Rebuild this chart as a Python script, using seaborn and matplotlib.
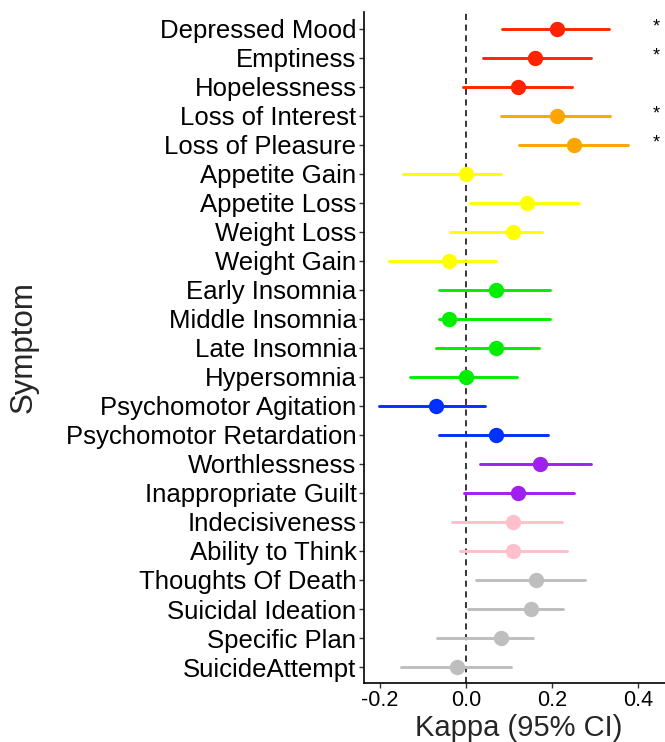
import numpy as np
import pandas as pd
import matplotlib
matplotlib.use("Agg")
import matplotlib.pyplot as plt
import seaborn as sns

symptoms = ["Depressed Mood", "Emptiness", "Hopelessness", "Loss of Interest",
            "Loss of Pleasure", "Appetite Gain", "Appetite Loss", "Weight Loss",
            "Weight Gain", "Early Insomnia", "Middle Insomnia", "Late Insomnia",
            "Hypersomnia", "Psychomotor Agitation", "Psychomotor Retardation",
            "Worthlessness", "Inappropriate Guilt", "Indecisiveness",
            "Ability to Think", "Thoughts Of Death", "Suicidal Ideation",
            "Specific Plan", "SuicideAttempt"]
kappa = [0.212, 0.161, 0.121, 0.211, 0.251, 0.000, 0.141, 0.110, -0.040,
         0.070, -0.040, 0.070, 0.000, -0.070, 0.070, 0.172, 0.121, 0.110,
         0.110, 0.162, 0.150, 0.081, -0.020]
ci_low = [0.083, 0.039, -0.006, 0.080, 0.124, -0.147, 0.010, -0.037, -0.179,
          -0.063, -0.063, -0.069, -0.130, -0.203, -0.063, 0.032, -0.004, -0.032,
          -0.013, 0.023, 0.004, -0.067, -0.150]
ci_high = [0.332, 0.289, 0.246, 0.334, 0.377, 0.081, 0.263, 0.177, 0.070,
           0.194, 0.194, 0.170, 0.119, 0.043, 0.191, 0.290, 0.251, 0.223,
           0.234, 0.277, 0.224, 0.155, 0.104]
groups = ["red"] * 3 + ["orange"] * 2 + ["yellow"] * 4 + ["green"] * 4 + \
         ["blue"] * 2 + ["purple"] * 2 + ["pink"] * 2 + ["gray"] * 4
significant = ["Depressed Mood", "Emptiness", "Loss of Interest", "Loss of Pleasure"]

group_colors = {"red": "#FF2400", "orange": "#FFA500", "yellow": "#FFFF00",
                "green": "#00EE00", "blue": "#0030FF", "purple": "#A020F0",
                "pink": "#FFC0CB", "gray": "#BEBEBE"}

# long-form table: three values per symptom (low, estimate, high)
rows = []
for s, lo, k, hi in zip(symptoms, ci_low, kappa, ci_high):
    for v in (lo, k, hi):
        rows.append({"Symptom": s, "Kappa": v})
df = pd.DataFrame(rows)
palette = {s: group_colors[g] for s, g in zip(symptoms, groups)}

sns.set_theme(style="white")
plt.rcParams["font.family"] = ["Liberation Sans", "DejaVu Sans"]

fig = plt.figure(figsize=(6.65, 7.42), dpi=100)
ax = fig.add_axes([0.5474, 0.0795, 0.4526, 0.9043])

ax.axvline(0, color="black", linestyle=(0, (4, 3)), linewidth=1.1, zorder=1)

sns.pointplot(data=df, x="Kappa", y="Symptom", hue="Symptom", order=symptoms,
              hue_order=symptoms, palette=palette, estimator=np.median,
              errorbar=lambda v: (v.min(), v.max()), linestyle="none",
              markers="o", markersize=9, err_kws={"linewidth": 2.1},
              dodge=False, legend=False, orient="h", ax=ax)

for s in significant:
    ax.text(0.441, symptoms.index(s) - 0.05, "*", ha="center", va="center",
            fontsize=13, color="black")

ax.set_xlim(-0.237, 0.462)
ax.set_ylim(22.55, -0.57)
ax.set_xticks([-0.2, 0.0, 0.2, 0.4])
ax.set_xticklabels(["-0.2", "0.0", "0.2", "0.4"])
ax.tick_params(axis="both", which="both", length=3.5, width=1, color="#333333",
               labelcolor="black", left=True, bottom=True)
ax.tick_params(axis="y", labelsize=18.5, pad=2)
ax.tick_params(axis="x", labelsize=15.5, pad=1.5)
ax.set_xlabel("Kappa (95% CI)", fontsize=21)
ax.set_ylabel("Symptom", fontsize=22.5)
ax.xaxis.set_label_coords(0.515, -0.0783)
ax.xaxis.label.set_va("baseline")
ax.yaxis.set_label_coords(-1.13, 0.5)
ax.yaxis.label.set_va("center")
for side in ("top", "right"):
    ax.spines[side].set_visible(False)
for side in ("left", "bottom"):
    ax.spines[side].set_color("black")
    ax.spines[side].set_linewidth(1.2)

fig.savefig("out.png", dpi=100)
